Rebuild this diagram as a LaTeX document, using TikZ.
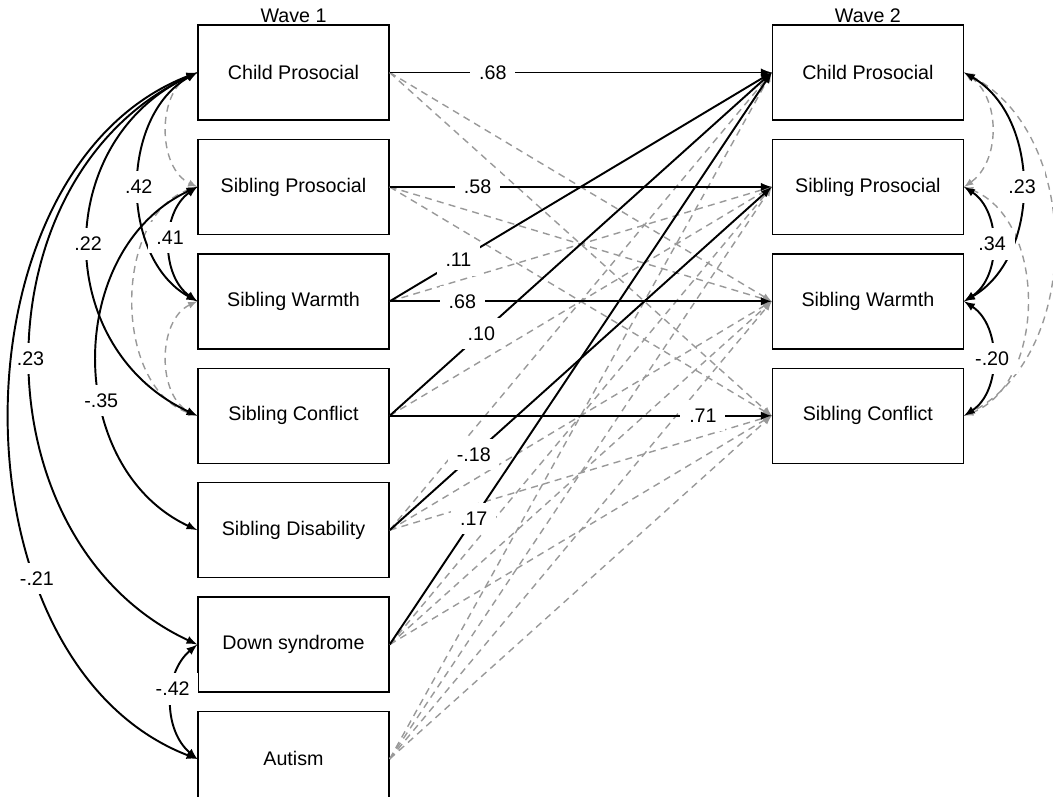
\documentclass[tikz,border=0pt]{standalone}
\usepackage{fontspec}
\setmainfont{Liberation Sans}
\usetikzlibrary{positioning}
\definecolor{nsgray}{gray}{0.6}

\begin{document}
\begin{tikzpicture}[>=latex,node distance=0.36cm and 7.64cm,font=\fontsize{11.2}{13}\selectfont,
		var/.style={draw,thick,minimum width=3.82cm,minimum height=1.9cm,inner sep=0pt},
		sig/.style={->,line width=1.1pt},
		ns/.style={->,nsgray,line width=0.8pt,dash pattern=on 4pt off 3pt},
		cov/.style={<->,line width=1.1pt},
		nscov/.style={<->,nsgray,line width=0.8pt,dash pattern=on 4pt off 3pt},
		coef/.style={fill=white,inner sep=5pt}]
			\useasboundingbox (-5.87,1.45) rectangle (15.19,-14.47);
			% wave 1
			\node[var] (cp_1) {Child Prosocial};
			\node[var] (sp_1) [below=of cp_1] {Sibling Prosocial};
			\node[var] (sw_1) [below=of sp_1] {Sibling Warmth};
			\node[var] (sc_1) [below=of sw_1] {Sibling Conflict};
			\node[var] (sd_1) [below=of sc_1] {Sibling Disability};
			\node[var] (ds_1) [below=of sd_1] {Down syndrome};
			\node[var] (au_1) [below=of ds_1] {Autism};
			% wave 2
			\node[var] (cp_2) [right=of cp_1] {Child Prosocial};
			\node[var] (sp_2) [below=of cp_2] {Sibling Prosocial};
			\node[var] (sw_2) [below=of sp_2] {Sibling Warmth};
			\node[var] (sc_2) [below=of sw_2] {Sibling Conflict};
			\node (w_1) [above=0pt of cp_1,inner sep=1pt] {Wave 1};
			\node (w_2) [above=0pt of cp_2,inner sep=1pt] {Wave 2};
			% non-significant
			\path[nscov]
			(cp_1.west) edge [bend right=65] (sp_1.west)
			(sp_1.west) edge [bend right=72] (sc_1.west)
			(sw_1.west) edge [bend right=65] (sc_1.west)
			(cp_2.east) edge [bend left=55] (sp_2.east)
			(sp_2.east) edge [bend left=69] (sc_2.east)
			(cp_2.east) edge [bend left=63] (sc_2.east);
			\path[ns]
			(cp_1.east) edge (sw_2.west)
			edge (sc_2.west)
			(sp_1.east) edge (sw_2.west)
			edge (sc_2.west)
			(sw_1.east) edge (sp_2.west)
			(sc_1.east) edge (sp_2.west)
			(sd_1.east) edge (cp_2.west)
			edge (sw_2.west)
			edge (sc_2.west)
			(ds_1.east) edge (sp_2.west)
			edge (sw_2.west)
			edge (sc_2.west)
			(au_1.east) edge (cp_2.west)
			edge (sp_2.west)
			edge (sw_2.west)
			edge (sc_2.west);
			% significant
			\path[cov]
			(cp_1.west) edge [bend right=61] node[coef] {.42} (sw_1.west)
			edge [bend right=65,looseness=1.2] node[coef] {.22} (sc_1.west)
			edge [bend right=65,looseness=1.1] node[coef] {.23} (ds_1.west)
			edge [bend right=69] node[coef,pos=.69] {-.21} (au_1.west)
			(sp_1.west) edge [bend right=55] node[coef,pos=.45] {.41} (sw_1.west)
			edge [bend right=65,looseness=1.1] node[coef,pos=.6] {-.35} (sd_1.west)
			(ds_1.west) edge [bend right=50] node[coef,pos=.4] {-.42} (au_1.west)
			(cp_2.east) edge [bend left=60] node[coef] {.23} (sw_2.east)
			(sp_2.east) edge [bend left=57] node[coef] {.34} (sw_2.east)
			(sw_2.east) edge [bend left=57] node[coef] {-.20} (sc_2.east);
			\path[sig]
			(cp_1.east) edge node[coef,pos=.27] {.68} (cp_2.west)
			(sp_1.east) edge node[coef,pos=.23] {.58} (sp_2.west)
			(sw_1.east) edge node[coef,pos=.19] {.68} (sw_2.west)
			edge node[coef,pos=.18] {.11} (cp_2.west)
			(sc_1.east) edge node[coef,pos=.82] {.71} (sc_2.west)
			edge node[coef,pos=.24] {.10} (cp_2.west)
			(sd_1.east) edge node[coef,pos=.22] {-.18} (sp_2.west)
			(ds_1.east) edge node[coef,pos=.22] {.17} (cp_2.west);
		\end{tikzpicture}
\end{document}
